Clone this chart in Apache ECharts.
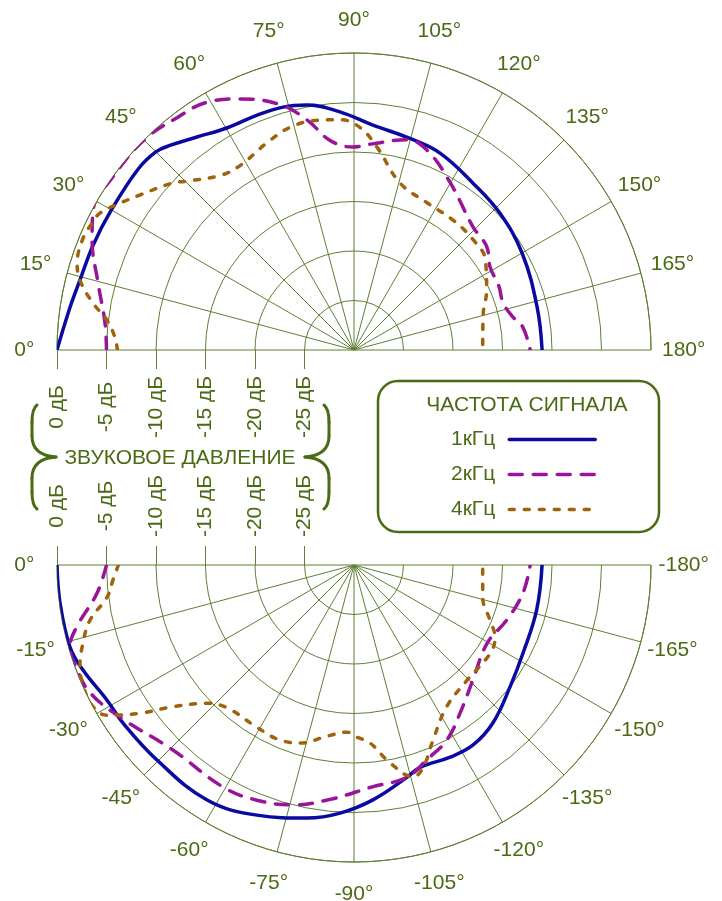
<!DOCTYPE html>
<html>
<head>
<meta charset="utf-8">
<style>
  html, body { margin: 0; padding: 0; background: #fff; }
  #chart { width: 722px; height: 901px; }
</style>
<script src="https://cdn.jsdelivr.net/npm/echarts@6/dist/echarts.min.js"></script>
</head>
<body>
<div id="chart"></div>
<script>
// деления шкалы звукового давления
const dbTicks = [-25, -20, -15, -10, -5, 0]
// подписи углов
const upAngleLabels = [0, 15, 30, 45, 60, 75, 90, 105, 120, 135, 150, 165, 180]
const downAngleLabels = [0, -15, -30, -45, -60, -75, -90, -105, -120, -135, -150, -165, -180]

// верхняя полуплоскость, углы 0..180°
const up1kAngle = [0, 8.6, 14.3, 22, 30, 40, 45, 48, 53.6, 60.2, 67.6, 73.7, 79.1, 86.6, 94.8, 104.8, 113.6, 125.5, 136.8, 150, 166.8, 180]
const up1kDb = [0, -1.0, -1.43, -1.6, -1.7, -1.55, -1.7, -2.2, -3.27, -4.16, -4.34, -4.44, -4.8, -5.9, -7.2, -7.9, -8.3, -9.3, -9.8, -10.4, -11.0, -11.0]

const up2kAngle = [0, 6.2, 14.7, 22.8, 28.7, 35, 45, 52.7, 59.3, 65.6, 73.2, 78.5, 83.5, 89.7, 95, 104, 110, 119.9, 134, 142, 148.6, 156, 162.5, 168.3, 172.2, 180]
const up2kDb = [-5.0, -4.7, -3.27, -1.3, 0, 0, 0, -0.5, -0.9, -2.15, -4.1, -6.3, -8.7, -9.5, -9.1, -8.1, -8.5, -10.5, -12.7, -13.0, -13.9, -14.0, -14.2, -13.6, -12.8, -12.2]

const up4kAngle = [0, 3.1, 6.9, 10.2, 14.3, 17.4, 22, 25.9, 28.3, 32.1, 35.9, 42.7, 45, 52.6, 58.4, 67.2, 74, 80.9, 86.5, 91.5, 96.5, 105.4, 116.4, 127.3, 137.3, 145.5, 155.7, 165, 180]
const up4kDb = [-6.1, -5.8, -4.87, -3.2, -1.43, -0.7, -0.4, -0.6, -0.85, -2.1, -3.3, -5.1, -5.9, -7.8, -8.1, -7.3, -6.6, -6.5, -6.7, -7.5, -9.4, -12.5, -13.4, -13.5, -13.6, -13.9, -15.3, -16.5, -17.0]

// нижняя полуплоскость, углы 0..-180°
const down1kAngle = [0, -7.4, -16.1, -21.2, -28.7, -34.4, -44.7, -58, -68.8, -79.5, -86.8, -94.6, -104, -108.1, -116.6, -123.5, -131.3, -142, -152.5, -166.2, -180]
const down1kDb = [0, -0.06, -0.14, -0.64, -1.56, -1.73, -2.0, -2.0, -2.9, -4.0, -4.9, -6.2, -7.9, -8.5, -8.3, -8.2, -8.75, -10.0, -10.75, -11.0, -11.0]

const down2kAngle = [0, -6.2, -12.6, -16.1, -20.8, -25.9, -33, -45.6, -59.5, -67.6, -75.7, -84.2, -94.5, -104, -110.5, -118, -125.6, -136, -149.6, -160.2, -170.6, -180]
const down2kDb = [-5.0, -3.9, -1.3, -0.14, -0.1, -0.4, -1.8, -3.85, -3.96, -4.3, -5.0, -6.2, -7.5, -7.9, -9.0, -10.0, -11.6, -13.3, -14.4, -13.6, -12.7, -12.2]

const down4kAngle = [0, -3.6, -7.4, -11.8, -16.1, -20.4, -24.8, -28.5, -31.3, -34.7, -38.1, -43.2, -48.4, -59.1, -67.1, -74, -79.8, -87.6, -91, -95, -100.3, -105.6, -108.9, -114.3, -123.2, -134.5, -147, -152.9, -158, -166, -180]
const down4kDb = [-6.2, -5.6, -4.85, -2.76, -1.5, -0.46, 0, 0, -0.8, -3.7, -6.8, -9.6, -10.7, -10.9, -10.8, -11.3, -12.3, -13.1, -12.6, -12.0, -9.7, -7.8, -8.4, -10.6, -12.9, -13.7, -13.6, -14.0, -15.2, -16.6, -17.0]

const GRID = '#5f7f35'
const TEXT = '#4a6a14'
const FONT = '"Liberation Sans", Arial, sans-serif'
const C1 = '#0a0aa0'
const C2 = '#9a149a'
const C4 = '#a0620c'
const LABEL_R = 3.3 // подписи углов чуть за внешней окружностью, дБ

// [радиус, угол] для полярной системы; нижние углы откладываются по модулю
function toPolar(db, ang) {
  return db.map((v, i) => [v, Math.abs(ang[i])])
}

function angleAxis(idx, bottom) {
  return {
    polarIndex: idx,
    type: 'value',
    min: 0,
    max: 180,
    interval: 15,
    startAngle: 180,
    endAngle: bottom ? 360 : 0,
    clockwise: !bottom,
    axisLine: { lineStyle: { color: GRID, width: 1 } },
    axisTick: { show: false },
    axisLabel: { show: false },
    splitLine: { lineStyle: { color: GRID, width: 1 } },
  }
}

function radiusAxis(idx, bottom) {
  return {
    polarIndex: idx,
    type: 'value',
    min: -30,
    max: 0,
    interval: 5,
    axisLine: { show: false },
    axisTick: {
      show: true,
      length: bottom ? -19 : 19,
      customValues: dbTicks,
      lineStyle: { color: GRID, width: 1 },
    },
    axisLabel: {
      customValues: dbTicks,
      rotate: 90,
      margin: bottom ? -59 : 57,
      align: 'center',
      verticalAlign: 'middle',
      color: TEXT,
      fontSize: 21,
      fontFamily: FONT,
      formatter: v => v + ' дБ',
    },
    splitLine: { show: true, lineStyle: { color: GRID, width: 1 } },
  }
}

function line(name, idx, data, color, type) {
  return {
    name,
    type: 'line',
    coordinateSystem: 'polar',
    polarIndex: idx,
    data,
    smooth: 0.4,
    symbol: 'none',
    silent: true,
    lineStyle: { color, width: 3.5, type, cap: 'round' },
    itemStyle: { color },
  }
}

// подписи углов — невидимые точки на окружности чуть больше внешней
function angleLabels(idx, list) {
  return {
    type: 'scatter',
    coordinateSystem: 'polar',
    polarIndex: idx,
    silent: true,
    clip: false,
    symbolSize: 1,
    itemStyle: { color: 'rgba(0,0,0,0)', opacity: 1 },
    data: list.map(a => [LABEL_R, Math.abs(a), a]),
    label: {
      show: true,
      position: 'inside',
      color: TEXT,
      opacity: 1,
      fontSize: 21,
      fontFamily: FONT,
      formatter: p => p.value[2] + '°',
    },
  }
}

const dash2 = [13, 11]
const dash4 = [5, 10]

// фигурная скобка: плечи на armX, острие на tipX
function brace(armX, tipX) {
  const s = Math.sign(tipX - armX)
  const st = { stroke: TEXT, lineWidth: 3, fill: null, lineCap: 'round' }
  const seg = (x1, y1, c1x, c1y, c2x, c2y, x2, y2) => ({
    type: 'bezierCurve',
    shape: { x1, y1, cpx1: c1x, cpy1: c1y, cpx2: c2x, cpy2: c2y, x2, y2 },
    style: st,
  })
  return [
    seg(armX + 5 * s, 405, armX + 1 * s, 408, armX, 413, armX, 422),
    { type: 'line', shape: { x1: armX, y1: 422, x2: armX, y2: 436 }, style: st },
    seg(armX, 436, armX, 450, armX + 10 * s, 456, tipX, 457),
    seg(tipX, 457, armX + 10 * s, 458, armX, 464, armX, 478),
    { type: 'line', shape: { x1: armX, y1: 478, x2: armX, y2: 492 }, style: st },
    seg(armX, 492, armX, 501, armX + 1 * s, 506, armX + 5 * s, 509),
  ]
}

const chart = echarts.init(document.getElementById('chart'))
chart.setOption({
  animation: false,
  backgroundColor: '#fff',
  polar: [
    { center: [354, 350], radius: 297 },
    { center: [354, 565], radius: 297 },
  ],
  angleAxis: [angleAxis(0, false), angleAxis(1, true)],
  radiusAxis: [radiusAxis(0, false), radiusAxis(1, true)],
  legend: {
    orient: 'vertical',
    right: 125,
    top: 429,
    align: 'right',
    padding: 0,
    itemWidth: 86,
    itemHeight: 24,
    itemGap: 14,
    selectedMode: false,
    itemStyle: { color: 'rgba(0,0,0,0)', borderColor: 'rgba(0,0,0,0)', borderWidth: 0 },
    lineStyle: { width: 3.5 },
    textStyle: { color: TEXT, fontSize: 21, fontFamily: FONT, padding: [0, 9, 0, 0] },
    data: ['1кГц', '2кГц', '4кГц'],
  },
  graphic: [
    {
      type: 'rect',
      shape: { x: 378, y: 381, width: 281, height: 151, r: 20 },
      style: { stroke: TEXT, lineWidth: 2.5, fill: null },
    },
    {
      type: 'text',
      x: 527,
      y: 405,
      style: { text: 'ЧАСТОТА СИГНАЛА', fill: TEXT, font: '21px ' + FONT, textAlign: 'center', textVerticalAlign: 'middle' },
    },
    {
      type: 'text',
      x: 180,
      y: 458,
      style: { text: 'ЗВУКОВОЕ ДАВЛЕНИЕ', fill: TEXT, font: '21px ' + FONT, textAlign: 'center', textVerticalAlign: 'middle' },
    },
    ...brace(32, 56),
    ...brace(329, 305),
  ],
  series: [
    line('1кГц', 0, toPolar(up1kDb, up1kAngle), C1, 'solid'),
    line('2кГц', 0, toPolar(up2kDb, up2kAngle), C2, dash2),
    line('4кГц', 0, toPolar(up4kDb, up4kAngle), C4, dash4),
    line('1кГц', 1, toPolar(down1kDb, down1kAngle), C1, 'solid'),
    line('2кГц', 1, toPolar(down2kDb, down2kAngle), C2, dash2),
    line('4кГц', 1, toPolar(down4kDb, down4kAngle), C4, dash4),
    angleLabels(0, upAngleLabels),
    angleLabels(1, downAngleLabels),
  ],
})
</script>
</body>
</html>
